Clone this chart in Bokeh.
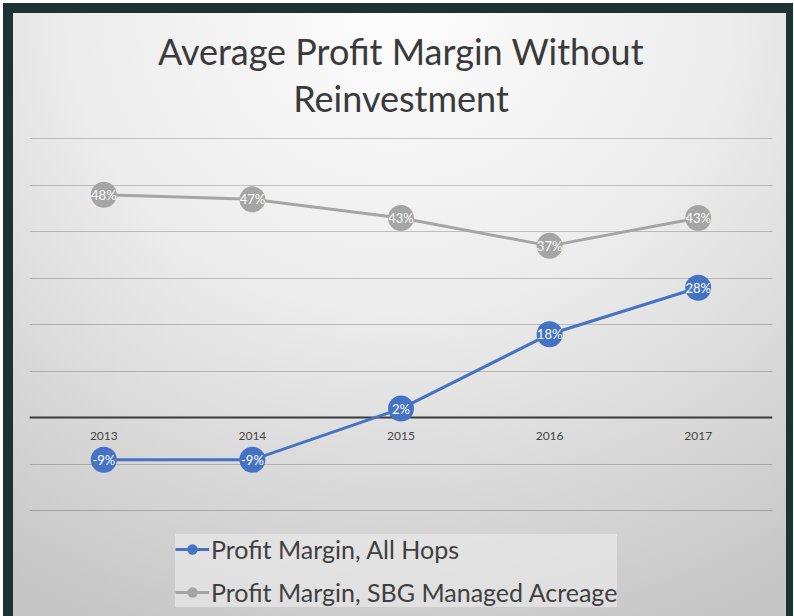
from bokeh.plotting import figure
from bokeh.models import FactorRange, Range1d, FixedTicker, Legend, LegendItem, ColumnDataSource, Title, Grid
from bokeh.layouts import column
from bokeh.embed import file_html
from bokeh.resources import INLINE
from bokeh.core.properties import value

# ---- data ----
years = ["2013", "2014", "2015", "2016", "2017"]
all_hops = [-9, -9, 2, 18, 28]
sbg_managed = [48, 47, 43, 37, 43]
y_ticks = [-20, -10, 0, 10, 20, 30, 40, 50, 60]
title_lines = ["Average Profit Margin Without", "Reinvestment"]
series_names = ["Profit Margin, All Hops", "Profit Margin, SBG Managed Acreage"]

FONT = "Lato"
BLUE = "#4472c4"
GRAY = "#a5a5a5"

src = ColumnDataSource(dict(
    x=years,
    a=all_hops,
    b=sbg_managed,
    la=[f"{v}%" for v in all_hops],
    lb=[f"{v}%" for v in sbg_managed],
    base=[0 for _ in years],
))

# frame runs down to the bottom of the figure so that the legend sits inside it
p = figure(width=773, height=603,
           x_range=FactorRange(factors=years, range_padding=0),
           y_range=Range1d(-42.7, 60.3),
           output_backend="svg", toolbar_location=None,
           min_border_left=16, min_border_right=14,
           min_border_top=124, min_border_bottom=0)

p.background_fill_alpha = 0
p.border_fill_alpha = 0
p.outline_line_color = None
p.title = None

# second line sits next to the frame, first line is stacked above it
t2 = Title(text=title_lines[1], align="center", text_font=FONT, text_font_size="36px",
           text_font_style="normal", text_color="#3a3a3a", standoff=36)
t1 = Title(text=title_lines[0], align="center", text_font=FONT, text_font_size="36px",
           text_font_style="normal", text_color="#3a3a3a", standoff=0)
try:
    t1.standoff = -34
except Exception:
    t1.standoff = 0
p.add_layout(t2, "above")
p.add_layout(t1, "above")

p.xaxis.visible = False
p.yaxis.visible = False
p.xgrid.visible = False
p.ygrid.ticker = FixedTicker(ticks=y_ticks)
p.ygrid.grid_line_color = "black"
p.ygrid.grid_line_alpha = 0.2

zero_grid = Grid(dimension=1, ticker=FixedTicker(ticks=[0]),
                 grid_line_color="#3a3a3a", grid_line_width=2)
p.add_layout(zero_grid)

# category labels sitting just under the zero line
p.text("x", "base", text="x", source=src, text_color="#444444", text_align="center",
       text_baseline="middle", y_offset=18, text_font=value(FONT), text_font_size="12px")

l2 = p.line("x", "b", source=src, line_color=GRAY, line_width=3)
s2 = p.scatter("x", "b", source=src, size=26, fill_color=GRAY, line_color=None)
p.text("x", "b", text="lb", source=src, text_color="white", text_align="center",
       text_baseline="middle", text_font=value(FONT), text_font_size="13px")

l1 = p.line("x", "a", source=src, line_color=BLUE, line_width=3)
s1 = p.scatter("x", "a", source=src, size=26, fill_color=BLUE, line_color=None)
p.text("x", "a", text="la", source=src, text_color="white", text_align="center",
       text_baseline="middle", text_font=value(FONT), text_font_size="13px")

legend = Legend(items=[LegendItem(label=series_names[0], renderers=[l1, s1]),
                       LegendItem(label=series_names[1], renderers=[l2, s2])],
                location=(146, 9), orientation="vertical",
                label_text_font=FONT, label_text_font_size="25px",
                label_text_color="#404040",
                glyph_width=34, glyph_height=26, label_height=26,
                label_standoff=2, spacing=13, padding=6, margin=0,
                background_fill_color="#ececec", background_fill_alpha=0.6,
                border_line_color=None)
p.add_layout(legend)

layout = column(p, styles={
    "background": "radial-gradient(ellipse 95% 110% at 50% 0%, #fdfdfd 0%, #ececec 45%, #c6c6c6 100%)",
    "border-left": "10px solid #1d3332",
    "border-top": "10px solid #1d3332",
    "border-right": "7px solid #1d3332",
    "margin": "3px 0 0 3px",
})

open("out.html", "w").write(file_html(layout, INLINE))
